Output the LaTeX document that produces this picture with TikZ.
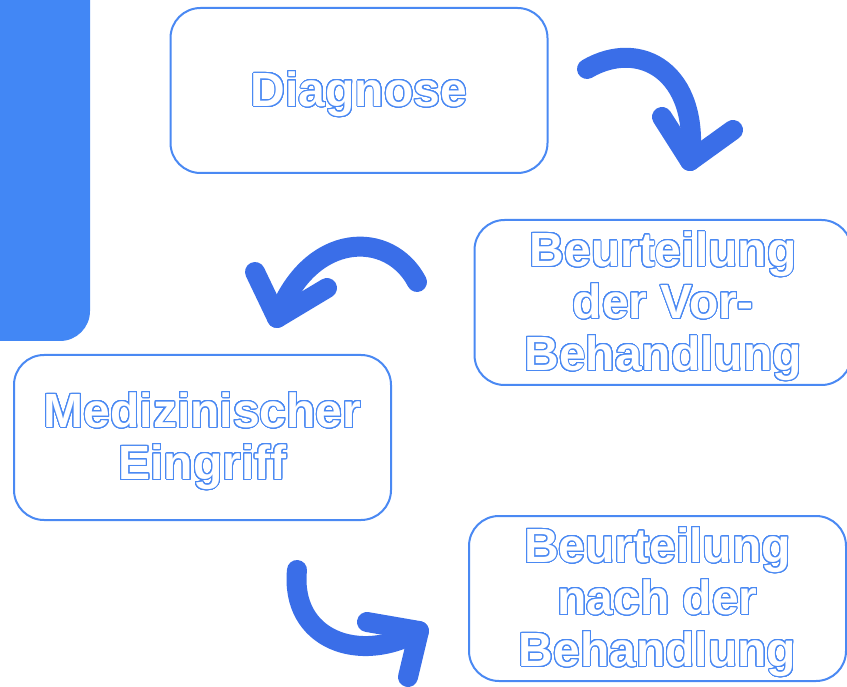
\documentclass[tikz,border=0pt]{standalone}
\usepackage{fontspec}
\setmainfont{Liberation Sans}
\usepackage{contour}
\usepackage{tikz}
\definecolor{barblue}{RGB}{66,135,245}
\definecolor{boxblue}{RGB}{74,137,243}
\definecolor{arrowblue}{RGB}{58,110,232}
\contourlength{1pt}
\contournumber{32}
\newcommand{\outl}[1]{\raisebox{-4pt}[\height][\depth]{\contour{boxblue}{#1}}}
\tikzset{
  stepbox/.style={draw=boxblue, line width=2pt, rounded corners=30pt, fill=white,
    minimum width=377pt, minimum height=165pt, text=white, align=center,
    font=\bfseries\fontsize{48}{52}\selectfont},
  curvearrow/.style={draw=arrowblue, line width=20pt, line cap=round, line join=round}
}
\begin{document}
\begin{tikzpicture}[x=1pt,y=-1pt]
\useasboundingbox (0,0) rectangle (847,687);
\fill[barblue] (0,-5) -- (90,-5) -- (90,311) arc[start angle=0, end angle=90, radius=30] -- (0,341) -- cycle;
\node[stepbox] (diag) at (359,90.5) {\outl{Diagnose}};
\node[stepbox] (vorbeh) at (663,302.5) {\outl{Beurteilung}\\\outl{der Vor-}\\\outl{Behandlung}};
\node[stepbox] (eingriff) at (202.5,437.5) {\outl{Medizinischer}\\\outl{Eingriff}};
\node[stepbox] (nachbeh) at (657.5,598.5) {\outl{Beurteilung}\\\outl{nach der}\\\outl{Behandlung}};
\coordinate (a1s) at (587,69);
\coordinate (a1t) at (690,161);
\coordinate (a2s) at (417,282);
\coordinate (a2t) at (277,318);
\coordinate (a3s) at (297,570);
\coordinate (a3t) at (419,631);
\draw[curvearrow] (a1s) .. controls (640,38) and (700,72) .. (a1t);
\draw[curvearrow] (662,117) -- (a1t) -- (733,130);
\draw[curvearrow] (a2s) .. controls (390,230) and (310,230) .. (a2t);
\draw[curvearrow] (255,272) -- (a2t) -- (327,288);
\draw[curvearrow] (a3s) .. controls (290,640) and (360,665) .. (a3t);
\draw[curvearrow] (367,622) -- (a3t) -- (408,677);
\end{tikzpicture}
\end{document}
